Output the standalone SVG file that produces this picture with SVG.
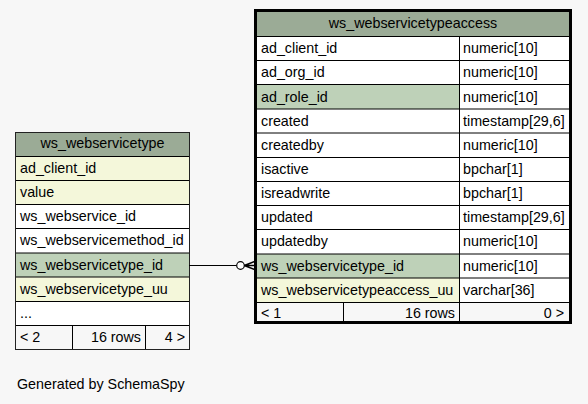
<svg xmlns="http://www.w3.org/2000/svg" width="588" height="404" viewBox="0 0 588 404">
<style>
text{font-family:"Liberation Sans",Arial,sans-serif;font-size:14.3px;fill:#000}
.c{text-anchor:middle}
.r{text-anchor:end}
.hd{fill:#9bab96}
.pk{fill:#bed1b8}
.ix{fill:#f4f7da}
.wh{fill:#fff}
.ft{fill:#f7f7f7}
.ln{stroke:#000;stroke-width:1;fill:none}
</style>
<rect width="588" height="404" fill="#f7f7f7"/>
<g id="ws_webservicetype">
<rect class="hd" x="16" y="133" width="173" height="24"/>
<rect class="ix" x="16" y="157" width="173" height="24"/>
<rect class="ix" x="16" y="181" width="173" height="24"/>
<rect class="wh" x="16" y="205" width="173" height="24"/>
<rect class="wh" x="16" y="229" width="173" height="24"/>
<rect class="pk" x="16" y="253" width="173" height="25"/>
<rect class="ix" x="16" y="277" width="173" height="25"/>
<rect class="wh" x="16" y="301" width="173" height="25"/>
<rect class="ft" x="16" y="325" width="173" height="25"/>
<path class="ln" d="M16 156.5H189M16 180.5H189M16 204.5H189M16 228.5H189M16 253H189M16 277H189M16 301.5H189M16 325.5H189M72.5 325.5V349.5M145.5 325.5V349.5"/>
<rect x="15.5" y="132.5" width="174" height="217" fill="none" stroke="#222" stroke-width="1"/>
<text class="c" x="102.5" y="148">ws_webservicetype</text>
<text x="20" y="173">ad_client_id</text>
<text x="20" y="197">value</text>
<text x="20" y="221">ws_webservice_id</text>
<text x="20" y="245">ws_webservicemethod_id</text>
<text x="20" y="269.5">ws_webservicetype_id</text>
<text x="20" y="293.5">ws_webservicetype_uu</text>
<text x="20" y="317.5">...</text>
<text x="20" y="341.5">&lt; 2</text>
<text class="r" x="141" y="341.5">16 rows</text>
<text class="r" x="185" y="341.5">4 &gt;</text>
</g>
<g id="ws_webservicetypeaccess">
<rect class="hd" x="257" y="12" width="312" height="25"/>
<rect class="wh" x="257" y="37" width="312" height="284"/>
<rect class="pk" x="257" y="85" width="202" height="24"/>
<rect class="pk" x="257" y="254" width="202" height="24"/>
<rect class="ix" x="257" y="278" width="202" height="24"/>
<rect class="ft" x="257" y="302" width="312" height="19"/>
<path class="ln" d="M257 36.5H569M257 60.5H569M257 84.5H569M257 109H569M257 133H569M257 157.5H569M257 181.5H569M257 205.5H569M257 229.5H569M257 254H569M257 278H569M257 302.5H569M459.5 36.5V321M343.5 302.5V321"/>
<rect x="255.5" y="10.5" width="315" height="312" fill="none" stroke="#000" stroke-width="3"/>
<text class="c" x="413" y="28">ws_webservicetypeaccess</text>
<text x="261" y="53">ad_client_id</text>
<text x="463" y="53">numeric[10]</text>
<text x="261" y="77">ad_org_id</text>
<text x="463" y="77">numeric[10]</text>
<text x="261" y="101.5">ad_role_id</text>
<text x="463" y="101.5">numeric[10]</text>
<text x="261" y="125.5">created</text>
<text x="463" y="125.5">timestamp[29,6]</text>
<text x="261" y="149.5">createdby</text>
<text x="463" y="149.5">numeric[10]</text>
<text x="261" y="174">isactive</text>
<text x="463" y="174">bpchar[1]</text>
<text x="261" y="198">isreadwrite</text>
<text x="463" y="198">bpchar[1]</text>
<text x="261" y="222">updated</text>
<text x="463" y="222">timestamp[29,6]</text>
<text x="261" y="246">updatedby</text>
<text x="463" y="246">numeric[10]</text>
<text x="261" y="270.5">ws_webservicetype_id</text>
<text x="463" y="270.5">numeric[10]</text>
<text x="261" y="294.5">ws_webservicetypeaccess_uu</text>
<text x="463" y="294.5">varchar[36]</text>
<text x="261" y="317.5">&lt; 1</text>
<text class="r" x="455" y="317.5">16 rows</text>
<text class="r" x="564" y="317.5">0 &gt;</text>
</g>
<g id="connectors">
<path class="ln" d="M189 265.5H236.7"/>
<circle cx="240.5" cy="265.5" r="3.8" fill="#fff" stroke="#000" stroke-width="1.2"/>
<path d="M244.3 265.5L256 261M244.3 265.5H256M244.3 265.5L256 270" fill="none" stroke="#000" stroke-width="1.5"/>
</g>
<text x="17" y="388.5">Generated by SchemaSpy</text>
</svg>
